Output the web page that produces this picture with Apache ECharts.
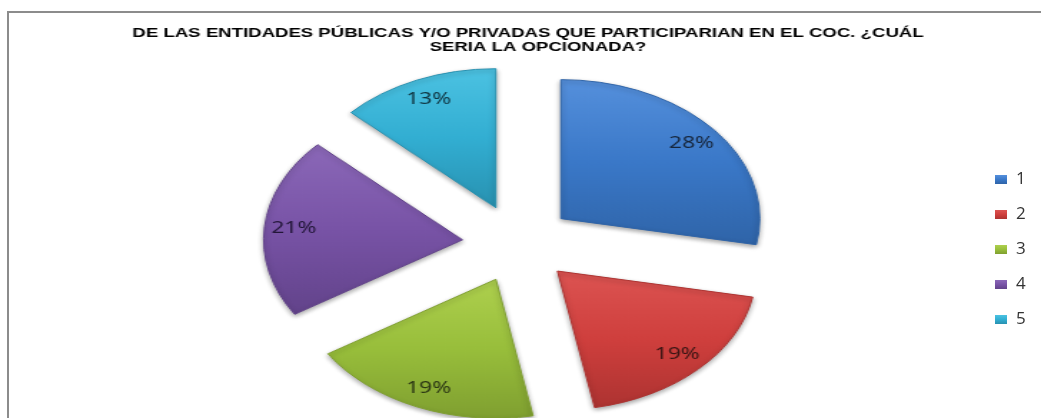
<!DOCTYPE html>
<html>
<head>
<meta charset="utf-8">
<script src="https://cdn.jsdelivr.net/npm/echarts@6/dist/echarts.min.js"></script>
<style>
  html, body { margin: 0; padding: 0; background: #fff; overflow: hidden; }
  #bg { position: absolute; left: 0; top: 0; width: 1041px; height: 418px; }
  /* the source picture is stretched sideways, so the pie layer is too */
  #pie { position: absolute; left: 0; top: 0; width: 728px; height: 418px;
         transform: scaleX(1.43); transform-origin: 0 0; }
</style>
</head>
<body>
<div id="bg"></div>
<div id="pie"></div>
<script>
const categories = ["1", "2", "3", "4", "5"];
const values = [28, 19, 19, 21, 13];
const titleLine1 = "DE LAS ENTIDADES PÚBLICAS Y/O PRIVADAS QUE PARTICIPARIAN EN EL COC. ¿CUÁL";
const titleLine2 = "SERIA LA OPCIONADA?";

const palette = [
  ["#5590dc", "#3a78c8", "#2f64a8"],
  ["#dc5452", "#cf3f3d", "#ad3331"],
  ["#aed04e", "#98be3b", "#7f9f30"],
  ["#8b68b8", "#7853a6", "#62438a"],
  ["#4cc2e2", "#32aed2", "#2891b0"],
];
const labelColors = ["#16263c", "#3a1514", "#2b3614", "#221638", "#0f3440"];

function grad(c) {
  return new echarts.graphic.LinearGradient(0, 0, 0, 1, [
    { offset: 0, color: c[0] },
    { offset: 0.5, color: c[1] },
    { offset: 1, color: c[2] },
  ]);
}

const S = 1.43;
const center = [518 / S, 243.5];
const radius = 139;
const offset = 39;

// background layer: frame + legend
const bg = echarts.init(document.getElementById("bg"));
bg.setOption({
  animation: false,
  backgroundColor: "#fff",
  graphic: [{
    type: "rect",
    shape: { x: 8, y: 12, width: 1100, height: 500 },
    style: { fill: "none", stroke: "#8c8c8c", lineWidth: 2 },
  }],
  legend: {
    orient: "vertical",
    left: 990,
    top: 166,
    itemWidth: 12,
    itemHeight: 9,
    itemGap: 18,
    icon: "rect",
    data: categories,
    textStyle: { fontFamily: "Open Sans", fontSize: 17, color: "#333", lineHeight: 16, padding: [0, 0, 0, 4] },
  },
  series: [{
    type: "pie",
    center: [-200, -200],
    radius: 1,
    silent: true,
    label: { show: false },
    data: categories.map((c, i) => ({ name: c, value: values[i], itemStyle: { color: grad(palette[i]) } })),
  }],
});

// pie layer
const pie = echarts.init(document.getElementById("pie"));
const titleStyle = { fontFamily: "Liberation Sans", fontWeight: "bold", fontSize: 13, color: "#000" };
pie.setOption({
  animation: false,
  title: [
    { text: titleLine1, left: 528 / S, top: 27, textAlign: "center", padding: 0, textStyle: titleStyle },
    { text: titleLine2, left: 538 / S, top: 40.5, textAlign: "center", padding: 0, textStyle: titleStyle },
  ],
  series: [
    {
      type: "pie",
      center: center,
      radius: radius,
      selectedMode: "multiple",
      selectedOffset: offset,
      silent: true,
      label: { show: false },
      labelLine: { show: false },
      data: categories.map((c, i) => ({
        name: c,
        value: values[i],
        selected: true,
        itemStyle: {
          color: grad(palette[i]),
          borderColor: palette[i][2],
          borderWidth: 1,
          shadowColor: "rgba(0,0,0,0.35)",
          shadowBlur: 4,
          shadowOffsetY: 2,
        },
      })),
    },
    {
      // transparent ring used only to place the value labels
      type: "pie",
      center: center,
      radius: [92, radius],
      selectedMode: "multiple",
      selectedOffset: offset,
      silent: true,
      itemStyle: { color: "rgba(0,0,0,0)" },
      label: {
        show: true,
        position: "inside",
        formatter: "{c}%",
        fontFamily: "Noto Sans",
        fontSize: 16,
      },
      data: categories.map((c, i) => ({
        name: c,
        value: values[i],
        selected: true,
        label: { color: labelColors[i] },
      })),
    },
  ],
});
</script>
</body>
</html>
